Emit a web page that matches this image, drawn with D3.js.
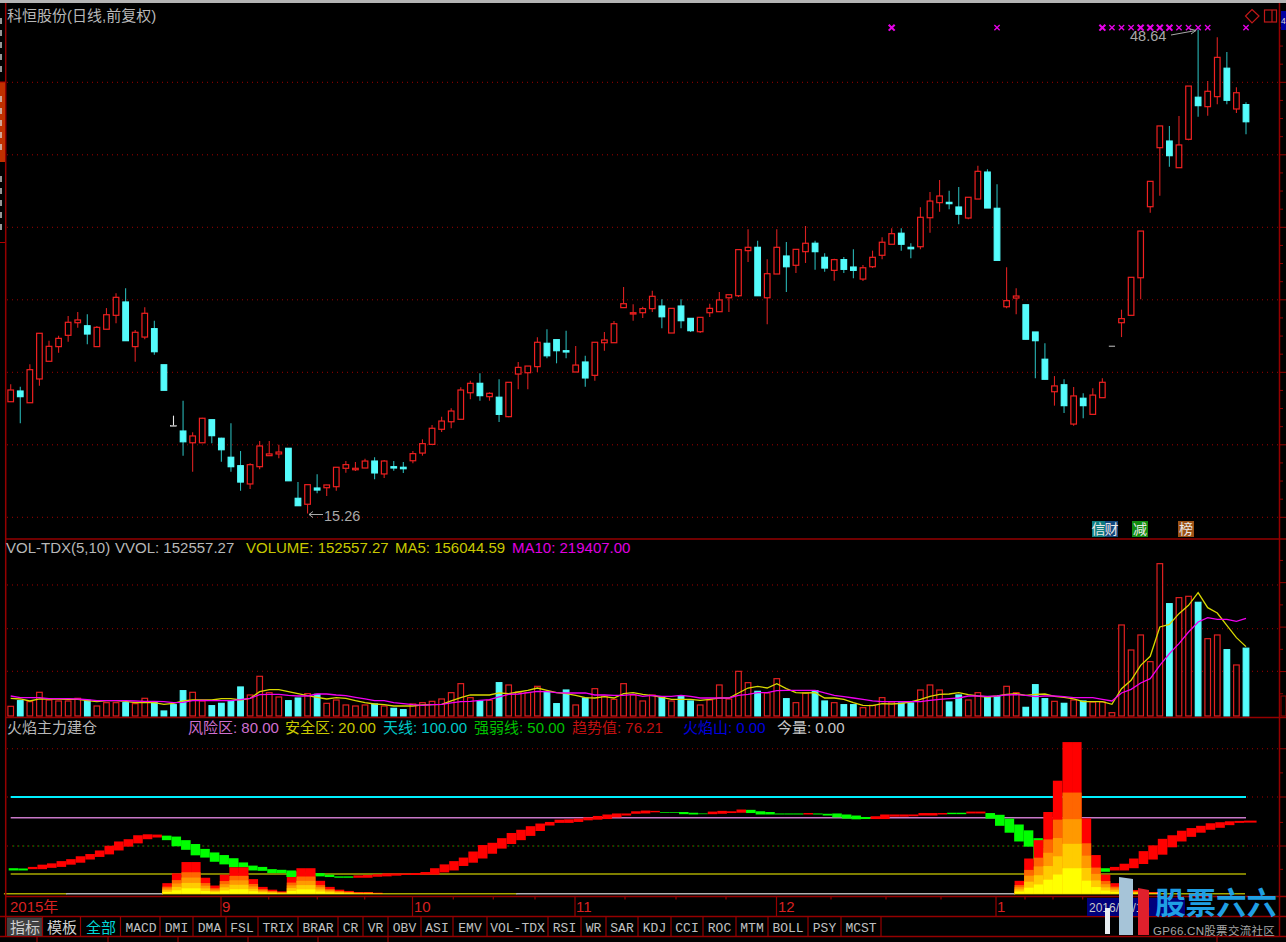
<!DOCTYPE html>
<html>
<head>
<meta charset="utf-8">
<script src="https://cdn.jsdelivr.net/npm/d3@7"></script>
<style>
  html, body { margin: 0; padding: 0; background: #000; overflow: hidden; }
  svg { display: block; }
  text { font-family: "Liberation Sans", "Noto Sans CJK SC", sans-serif; }
</style>
</head>
<body>
<svg width="1286" height="942"></svg>
<script>
// daily candles, one entry per trading day
const opens = [
  22.97,23.71,22.90,24.54,25.76,26.77,27.55,28.42,28.21,26.77,
  27.97,28.93,29.85,26.77,27.43,28.01,25.52,21.32,20.95,20.14,
  20.14,21.73,20.45,19.14,18.56,17.30,18.49,19.25,19.37,19.76,
  16.31,15.90,17.02,17.04,17.11,18.38,18.28,18.40,18.88,17.99,
  18.49,18.45,18.90,19.43,20.03,21.07,21.59,21.76,23.59,24.24,
  23.32,23.28,21.94,24.88,24.97,25.39,27.00,27.25,26.49,25.02,
  25.71,24.79,27.04,27.04,29.46,29.02,29.11,29.39,29.57,27.71,
  29.57,28.72,27.80,29.11,29.18,30.14,30.28,33.39,33.62,30.14,
  31.78,33.02,32.38,33.32,33.90,32.93,32.03,32.77,32.26,31.43,
  32.28,33.07,33.83,34.59,33.62,33.66,35.66,36.70,36.72,36.40,
  35.64,36.95,38.81,36.31,29.52,30.12,29.66,27.78,25.90,23.66,
  24.14,21.43,23.21,22.10,23.25,26.81,28.42,28.93,31.52,36.42,
  40.49,40.95,39.11,41.07,43.97,43.32,44.01,45.97,43.16,43.46
];
const highs = [
  24.17,24.01,25.55,27.69,27.18,27.52,28.88,29.16,29.00,28.19,
  29.43,30.45,30.79,27.92,29.48,28.56,25.52,22.01,23.04,20.86,
  21.87,21.73,20.49,21.48,19.57,18.72,20.26,20.26,20.01,19.76,
  17.43,17.25,17.97,17.25,18.45,18.88,18.81,19.04,19.14,18.95,
  18.88,18.81,19.57,20.38,21.37,21.94,22.52,23.97,24.42,24.93,
  23.62,24.52,24.31,25.71,25.43,27.41,27.97,27.25,27.87,26.81,
  26.14,27.07,27.78,28.54,30.88,29.69,29.52,30.63,30.03,29.41,
  30.03,28.72,28.79,29.73,30.54,30.35,33.46,34.86,34.08,32.79,
  34.86,33.99,33.48,35.09,34.08,33.21,32.83,32.95,33.48,32.40,
  33.39,34.31,34.93,34.93,33.90,36.38,37.43,38.26,37.52,37.78,
  37.07,39.25,39.00,37.97,32.24,30.79,29.66,27.78,27.00,24.74,
  24.52,23.99,23.55,23.90,24.59,26.81,29.32,31.55,34.74,38.17,
  41.99,41.99,42.68,44.74,48.64,45.09,48.10,47.09,44.66,43.62
];
const lows = [
  22.97,21.48,22.90,24.08,25.76,26.35,27.11,28.08,26.93,26.77,
  27.97,28.38,27.18,25.73,27.28,26.21,23.76,21.32,19.25,18.14,
  20.14,20.10,18.83,18.14,16.83,16.95,18.31,19.25,19.07,17.52,
  15.80,15.26,16.66,16.47,16.83,18.08,18.19,18.40,17.62,17.71,
  18.21,18.06,18.72,19.25,20.03,20.88,21.14,21.76,23.14,23.04,
  23.04,21.57,21.90,23.83,23.83,25.02,25.97,25.62,25.97,25.02,
  24.01,24.42,26.49,27.04,29.46,28.56,28.74,29.16,28.03,27.71,
  28.03,27.78,27.71,28.81,29.18,29.16,30.19,32.61,30.28,28.31,
  31.78,30.54,31.85,32.54,32.08,31.94,31.32,31.85,31.48,31.30,
  32.19,32.79,33.83,33.39,32.86,33.48,34.63,36.08,36.24,35.21,
  35.55,36.95,36.33,32.72,29.41,29.00,27.28,24.59,24.52,22.70,
  22.19,21.32,21.83,22.10,23.25,26.81,27.43,28.93,30.03,36.01,
  37.18,39.18,39.11,41.00,42.63,42.70,43.48,43.48,42.88,41.41
];
const closes = [
  23.78,23.32,25.18,27.69,26.79,27.34,28.45,28.61,27.64,28.10,
  28.97,30.17,27.18,27.76,29.07,26.42,23.76,21.32,20.21,20.61,
  21.83,20.63,19.66,18.49,17.43,18.63,19.92,19.37,19.50,17.52,
  15.80,17.25,16.88,17.23,18.45,18.63,18.38,18.88,18.06,18.88,
  18.40,18.35,19.39,20.08,21.14,21.64,22.33,23.78,24.24,23.39,
  23.55,22.10,24.31,25.34,25.43,27.07,26.14,26.49,26.40,25.50,
  24.61,27.07,27.23,28.35,29.73,29.11,29.39,30.24,28.83,29.41,
  28.56,27.87,28.79,29.41,29.99,30.35,33.46,33.62,30.28,31.80,
  33.62,32.28,33.48,33.90,33.32,32.19,32.77,32.10,32.03,32.21,
  32.93,33.97,34.56,33.83,33.52,35.69,36.81,37.16,36.63,35.90,
  37.07,38.86,36.33,32.72,29.94,30.26,27.28,27.18,24.52,24.06,
  22.70,23.37,22.70,23.43,24.31,26.81,28.70,31.55,34.74,38.17,
  41.99,39.94,40.68,44.74,43.39,44.38,46.72,43.76,44.28,42.28
];
const priceGrid = [15, 20, 25, 30, 35, 40, 45];
// days carrying the magenta cross along the top, the second list is drawn heavier
const alertDays = [103, 115, 116, 117, 122, 123, 124, 125, 129];
const alertDaysBold = [92, 114, 118, 119, 120, 121];
const alertPrice = 48.77;

// volume, in thousands of lots
const volumes = [
  21.8,34.5,32.3,53.3,36,33.8,33.8,39.8,35.3,22.5,
  30,30,30,27.8,39.8,30,11.3,25.5,57,53.3,
  33.8,23.3,28.5,34.5,65.3,47.3,89.3,52.5,42.8,34.5,
  40.5,50.3,48.8,28.5,36,24.8,22.5,24.8,27,22.5,
  17.3,14.3,27,30,33,38.3,52.5,72.8,41.3,33.8,
  35.3,75,69.8,54,52.5,66.8,54.8,27.8,58.5,24.8,
  40.5,61.5,44.3,37.5,72.8,47.3,33.8,47.3,42.8,33.8,
  45,33.8,24.8,36,69.8,38.3,100.5,75,55.5,51.8,
  84,39,30,51.8,57,33.8,30,25.5,25.5,18.8,
  24,41.3,31.5,29.3,29.3,58.5,69.8,58.5,31.5,47.3,
  36,52.5,41.3,43.5,66.8,52.5,19.5,70.5,39,33,
  28.5,36,33.8,31.5,31.5,7.5,204.8,148.5,182.3,122.3,
  342.8,252.8,266.3,269.3,255.8,174,182.3,149.3,114.8,152.56
];
const ma5 = [
  39.8,38.3,33.8,38.3,38.3,38.3,37.5,37.5,34.5,32.3,
  34.5,34.5,33,30,30,30,26.3,28.5,33.8,36,
  36,36,39,39,36,39.8,54.8,59.3,59.3,54.8,
  50.3,45.8,42,38.3,41.3,39.8,34.5,30,27,25.5,
  22.5,22.5,22.5,24.8,25.5,26.3,33.8,41.3,47.3,47.3,
  47.3,51.8,50.3,54,57.8,63,57.8,52.5,50.3,46.5,
  41.3,40.5,43.5,40.5,50.3,52.5,48.8,45.8,42,37.5,
  37.5,37.5,35.3,37.5,40.5,40.5,51.8,63,66.8,63,
  72.8,61.5,52.5,51.8,52.5,40.5,40.5,37.5,30,24,
  23.3,27.8,27,28.5,31.5,37.5,44.3,48.8,49.5,52.5,
  48,45,42.8,45,48.8,50.3,46.5,48.8,49.5,44.3,
  42,38.3,32.3,32.3,32.3,26.3,61.5,80.3,114,134.3,
  200.3,206.3,230.3,249,277.5,243.8,231.8,204,176.3,156.04
];
const ma10 = [
  45,41.3,41.3,41.3,39,39,39,38.3,36.8,34.5,
  34.5,34.5,34.5,33.8,33,33,32.3,30,30.8,34.5,
  35.3,34.5,34.5,34.5,36.8,39.8,48,48.8,48.8,46.5,
  45,45,49.5,49.5,47.3,45.8,42,38.3,34.5,34.5,
  30,27.8,25.5,24,25.5,26.3,29.3,32.3,33,35.3,
  36.8,42.8,48.8,49.5,52.5,55.5,54.8,52.5,51.8,51.8,
  51.8,47.3,47.3,46.5,46.5,48.8,44.3,46.5,44.3,44.3,
  46.5,44.3,40.5,40.5,40.5,40.5,46.5,48.8,52.5,52.5,
  57,57.8,57.8,57.8,57.8,51.8,46.5,43.5,40.5,37.5,
  33.8,32.3,32.3,32.3,32.3,32.3,35.3,37.5,39,40.5,
  45,45,44.3,45,47.3,48,46.5,43.5,45,45,
  43.5,41.3,41.3,41.3,37.5,33.8,51.8,60,74.3,84,
  114,140.3,162.8,189,211.5,221.3,217.5,217.5,213,219.41
];
const volumeGrid = [100.6, 196.4, 294.8];

// flame indicator: ribbon edges of the trend value, and the flame height
const trendHi = [
  26.2,25.9,27.6,30,31.4,33.8,35.9,39,41.4,45.2,
  50.3,54.8,57.2,61.4,62.4,62.1,61,60,56.2,52.1,
  46.9,43.1,40.3,36.9,32.4,29,27.6,25.2,24.5,23.8,
  22.8,21.7,21,19.3,17.6,17.6,18.6,19,19.7,20.7,
  20.7,20.7,21,22.1,26.2,30.3,33.8,37.6,44.1,51,
  53.4,58.3,63.8,67.2,71,73.8,75.5,77.9,78.3,79,
  80.3,81.7,83.1,84.1,84.1,86.2,86.9,86.6,85.5,85.5,
  85.5,84.8,84.1,85.9,86.6,86.2,87.9,87.6,86.2,85.5,
  84.1,84.1,84.1,84.5,84.1,83.8,84.1,83.1,82.1,80.7,
  81.4,83.1,83.1,83.1,83.1,84.5,84.5,84.5,84.8,84.8,
  85.9,85.9,84.5,82.8,79,72.8,66.6,58.3,48,42,
  38,34,30,28,26.2,27.6,31,36.6,44.5,50.7,
  57.6,61.4,66.2,69,71.4,74.1,75.2,76.2,76.6,76.9
];
const trendLo = [
  23.8,23.8,25.2,25.2,26.6,27.6,30,32.1,35.5,38.3,
  41,45.2,49.3,52.8,57.2,59,56.2,49.7,45.9,40,
  37.6,33.1,30.3,27.2,27.2,23.8,23.4,21,21,16.9,
  17.6,17.6,17.6,16.9,16.2,16.2,16.2,16.2,17.2,17.6,
  18.3,19,19,19.3,19.3,21.7,23.8,28.6,32.1,36.6,
  41.7,47.2,52.1,56.2,60.7,65.9,71.7,74.5,74.5,75.5,
  77.2,77.9,78.6,80.3,82.1,83.8,84.1,85.2,84.8,84.8,
  83.4,83.1,83.4,83.4,83.8,84.5,84.8,84.5,83.1,83.1,
  83.1,83.1,83.1,83.1,83.1,82.1,80.3,79,78.3,78.6,
  78.6,78.6,81,81,81.4,82.1,82.1,83.1,83.4,83.4,
  84.1,84.1,79,71.4,64.1,54.8,49.3,34.8,38,32,
  28,26,24,23,22.4,23.8,23.8,26.2,30.7,35.5,
  40.7,48.6,54.8,59.7,64.1,67.2,69.3,72.1,74.5,74.8
];
// first and last day of each stretch where the ribbon is green
const fallingRuns = [[0, 1], [16, 35], [68, 72], [77, 82], [84, 89], [98, 99], [102, 114]];
const flame = [
  0,0,0,0,0,0,0,0,0,0,
  0,0,0,0,0,0,10.7,20.7,32.8,32.8,
  16.2,8.3,19.3,27.2,27.2,14.8,6.9,4.1,2.4,16.9,
  26.2,26.2,13.1,6.9,4.1,2.8,1.7,1.7,1,0,
  0,0,0,0,0,0,0,0,0,0,
  0,0,0,0,0,0,0,0,0,0,
  0,0,0,0,0,0,0,0,0,0,
  0,0,0,0,0,0,0,0,0,0,
  0,0,0,0,0,0,0,0,0,0,
  0,0,0,0,0,0,0,0,0,0,
  0,0,0,0,0,13.1,36.6,56.2,85.5,116.9,
  156.9,156.9,79.3,40.3,19.3,10.7,5.5,3.8,2.4,1.7,
  0,0,0,0,0,0,0,0,0,0
];
// each flame column is painted as nested sticks at these shares of its height
const flameShares = [1, 2 / 3, 1 / 2, 1 / 3, 1 / 6];
const flameColors = ["#ff0000", "#ff6600", "#ff9900", "#ffcc00", "#ffff00"];
const flameGrid = [50, 100, 150];
const levelLines = [
  { value: 100, color: "#00f0ff", width: 2.2 },
  { value: 80, color: "#c878c8", width: 1.4 },
  { value: 20, color: "#a8a800", width: 1.6 },
];
// runs of the zero line: first day, last day, colour
const zeroRuns = [
  [-0.5, 6, "#a8a800"], [6, 16, "#b0b0b0"], [16, 53, "#a8a800"],
  [53, 105, "#b0b0b0"], [105, 129, "#a8a800"],
];

// date axis
const monthLabels = ["2015年", "9", "10", "11", "12", "1"];
const monthX = [10, 222, 414, 576, 778, 997];
const monthSepX = [221, 412.5, 575, 776.5, 996];
const minorTickX = [268.7, 317.3, 364.7, 453.3, 493.3, 535, 625, 676, 726, 831, 886, 941, 1025, 1053, 1082.7];

// indicator button bar, label and the x where its cell ends
const buttonLabels = ["MACD", "DMI", "DMA", "FSL", "TRIX", "BRAR", "CR", "VR", "OBV", "ASI", "EMV", "VOL-TDX", "RSI", "WR", "SAR", "KDJ", "CCI", "ROC", "MTM", "BOLL", "PSY", "MCST"];
const buttonEnds = [160, 193, 226, 258, 298, 338, 363, 388, 421, 453, 487, 548, 581, 606, 638, 671, 703, 736, 768, 808, 841, 881];

const volHeader = [
  { text: "VOL-TDX(5,10)", x: 6, color: "#b8b8b8" },
  { text: "VVOL: 152557.27", x: 115, color: "#b8b8b8" },
  { text: "VOLUME: 152557.27", x: 246, color: "#c8c800" },
  { text: "MA5: 156044.59", x: 395, color: "#c8c800" },
  { text: "MA10: 219407.00", x: 512, color: "#e000e0" },
];
const flameHeader = [
  { text: "火焰主力建仓", x: 7, color: "#b8b8b8" },
  { text: "风险区: 80.00", x: 188, color: "#d070d0" },
  { text: "安全区: 20.00", x: 285, color: "#c8c800" },
  { text: "天线: 100.00", x: 383, color: "#00c8c8" },
  { text: "强弱线: 50.00", x: 474, color: "#00c000" },
  { text: "趋势值: 76.21", x: 572, color: "#c01010" },
  { text: "火焰山: 0.00", x: 683, color: "#0000e0" },
  { text: "今量: 0.00", x: 777, color: "#c8c8c8" },
];

const RED = "#f02020";
const CYAN = "#54fcfc";
const FRAME = "#950000";
const GRID = "#a00000";

const svg = d3.select("svg");
const days = d3.range(opens.length);

// shared x scale, three y scales
const x = d3.scaleLinear().domain([0, days.length - 1]).range([10.7, 1246]);
const step = x(1) - x(0);
const yPrice = d3.scaleLinear().domain([15, 45]).range([517.3, 82.3]);
const yVol = d3.scaleLinear().domain([0, 396]).range([716, 540]);
const yFlame = d3.scaleLinear().domain([0, 20, 50, 80, 100, 157]).range([893.7, 874, 846, 817.7, 797, 742]);

svg.append("rect").attr("width", 1286).attr("height", 942).attr("fill", "#000");

// dotted grid helper
function dotted(y, color, x1, x2, offset) {
  svg.append("line")
    .attr("x1", x1).attr("x2", x2).attr("y1", y).attr("y2", y)
    .attr("stroke", color).attr("stroke-width", 1)
    .attr("stroke-dasharray", "1,4")
    .attr("stroke-dashoffset", offset || 0);
}
priceGrid.forEach((p) => dotted(yPrice(p), GRID, 7, 1279));
volumeGrid.forEach((v) => dotted(yVol(v), GRID, 7, 1279));
flameGrid.forEach((v) => dotted(yFlame(v), GRID, 7, 1279));
dotted(yFlame(50), "#00d000", x(0), x(129), 2.5);

//---------- candles
const isFlat = (i) => opens[i] === closes[i];
const candleColor = (i) => (isFlat(i) ? "#e8e8e8" : closes[i] > opens[i] ? RED : CYAN);
const candles = svg.append("g");
candles.selectAll(".wick").data(days).enter().append("line")
  .attr("x1", (i) => x(i)).attr("x2", (i) => x(i))
  .attr("y1", (i) => yPrice(highs[i])).attr("y2", (i) => yPrice(lows[i]))
  .attr("stroke", (i) => (isFlat(i) ? "#e8e8e8" : closes[i] > opens[i] ? "#d82020" : "#28b4b4"))
  .attr("stroke-width", 1.1);
candles.selectAll(".body").data(days).enter().append("rect")
  .attr("x", (i) => x(i) - 2.8)
  .attr("width", 5.6)
  .attr("y", (i) => yPrice(Math.max(opens[i], closes[i])))
  .attr("height", (i) => Math.max(0.6, Math.abs(yPrice(opens[i]) - yPrice(closes[i]))))
  .attr("fill", (i) => (isFlat(i) || closes[i] > opens[i] ? "#000" : CYAN))
  .attr("stroke", (i) => candleColor(i))
  .attr("stroke-width", (i) => (isFlat(i) ? 0.6 : 1.2));

// magenta crosses
const cross = d3.symbol().type(d3.symbolX);
function drawCrosses(list, size, width) {
  svg.append("g").selectAll("path").data(list).enter().append("path")
    .attr("d", cross.size(size)())
    .attr("transform", (i) => `translate(${x(i)},${yPrice(alertPrice)})`)
    .attr("fill", "none").attr("stroke", "#e800e8").attr("stroke-width", width);
}
drawCrosses(alertDays, 20, 1.3);
drawCrosses(alertDaysBold, 25, 2.1);

// high and low notes
const noteColor = "#a8a8a8";
svg.append("text").attr("x", 1130).attr("y", 41).attr("fill", noteColor).attr("font-size", 14.5).text("48.64");
svg.append("text").attr("x", 324).attr("y", 520.5).attr("fill", noteColor).attr("font-size", 14.5).text("15.26");
svg.append("path").attr("d", "M1171,35 L1196,30.5 M1190,29 L1196,30.5 L1191,34").attr("fill", "none").attr("stroke", noteColor);
svg.append("path").attr("d", "M323,514.5 L309,514.5 M313,511.5 L309,514.5 L313,517.5").attr("fill", "none").attr("stroke", noteColor);

// event tags at the foot of the price panel
const tags = [
  { text: "信", x: 1092, w: 13, color: "#0f7d80" },
  { text: "财", x: 1105, w: 13, color: "#12467c" },
  { text: "减", x: 1132, w: 16, color: "#108c10" },
  { text: "榜", x: 1178, w: 16, color: "#9c5216" },
];
tags.forEach((t) => {
  svg.append("rect").attr("x", t.x).attr("y", 521).attr("width", t.w).attr("height", 16).attr("fill", t.color);
  svg.append("text").attr("x", t.x + t.w / 2).attr("y", 534).attr("text-anchor", "middle")
    .attr("font-size", 14).attr("fill", "#e8e8e8").text(t.text);
});

//---------- volume bars
const volUp = (i) => closes[i] > opens[i] || i === 115;
svg.append("g").selectAll("rect").data(days).enter().append("rect")
  .attr("x", (i) => x(i) - 2.8)
  .attr("width", 5.6)
  .attr("y", (i) => yVol(volumes[i]))
  .attr("height", (i) => yVol(0) - yVol(volumes[i]))
  .attr("fill", (i) => (volUp(i) ? "#000" : CYAN))
  .attr("stroke", (i) => (volUp(i) ? "#e02020" : CYAN))
  .attr("stroke-width", 1.2);
const volLine = d3.line().x((d, i) => x(i)).y((d) => yVol(d));
svg.append("path").attr("d", volLine(ma5)).attr("fill", "none").attr("stroke", "#d8d800").attr("stroke-width", 1.3);
svg.append("path").attr("d", volLine(ma10)).attr("fill", "none").attr("stroke", "#f000f0").attr("stroke-width", 1.3);

//---------- flame panel
levelLines.forEach((l) => {
  svg.append("line")
    .attr("x1", x(0)).attr("x2", x(129))
    .attr("y1", yFlame(l.value)).attr("y2", yFlame(l.value))
    .attr("stroke", l.color).attr("stroke-width", l.width);
});

// ribbon, one stick per day
const isFalling = (i) => fallingRuns.some((r) => i >= r[0] && i <= r[1]);
svg.append("g").selectAll("rect").data(days).enter().append("rect")
  .attr("x", (i) => x(i) - 2)
  .attr("width", (i) => (i === 129 ? step + 3 : step))
  .attr("y", (i) => yFlame(trendHi[i]))
  .attr("height", (i) => yFlame(trendLo[i]) - yFlame(trendHi[i]))
  .attr("fill", (i) => (isFalling(i) ? "#00ff00" : "#ff0000"));

zeroRuns.forEach((r) => {
  svg.append("line")
    .attr("x1", x(r[0]) - 2).attr("x2", x(r[1]) - 1)
    .attr("y1", yFlame(0)).attr("y2", yFlame(0))
    .attr("stroke", r[2]).attr("stroke-width", 1.6);
});

// flame columns, tallest share first so the smaller ones sit on top
flameShares.forEach((share, k) => {
  svg.append("g").selectAll("rect").data(days.filter((i) => flame[i] > 0)).enter().append("rect")
    .attr("x", (i) => x(i) - 1.6)
    .attr("width", step)
    .attr("y", (i) => yFlame(flame[i] * share))
    .attr("height", (i) => yFlame(0) - yFlame(flame[i] * share))
    .attr("fill", flameColors[k]);
});

//---------- frame
const hLines = [539, 717.5, 896.5, 916.5, 936.5];
hLines.forEach((y) => {
  svg.append("line").attr("x1", y > 900 ? 0 : 5).attr("x2", 1286).attr("y1", y).attr("y2", y)
    .attr("stroke", FRAME).attr("stroke-width", 1.5);
});
svg.append("line").attr("x1", 5.7).attr("x2", 5.7).attr("y1", 3).attr("y2", 936).attr("stroke", FRAME).attr("stroke-width", 1.5);
svg.append("line").attr("x1", 1279.5).attr("x2", 1279.5).attr("y1", 3).attr("y2", 936).attr("stroke", FRAME).attr("stroke-width", 1.5);
svg.append("rect").attr("width", 1286).attr("height", 3).attr("fill", "#b4b4b4");

// right axis ticks
function rightTicks(values, scale, isMajor) {
  svg.append("g").selectAll("line").data(values).enter().append("line")
    .attr("x1", 1280).attr("x2", (d, i) => (isMajor(i) ? 1286 : 1283))
    .attr("y1", (d) => scale(d)).attr("y2", (d) => scale(d))
    .attr("stroke", FRAME);
}
rightTicks(d3.range(15, 50, 1.25), yPrice, (i) => i % 4 === 0);
rightTicks([50, 100, 150, 200, 250, 300, 350], yVol, (i) => i % 2 === 1);
rightTicks([25, 50, 75, 100, 125, 150], yFlame, (i) => i % 2 === 1);

// left side tabs
svg.append("rect").attr("x", 0).attr("y", 82).attr("width", 5).attr("height", 80).attr("fill", "#c03000");
svg.append("line").attr("x1", 0).attr("x2", 5).attr("y1", 82).attr("y2", 82).attr("stroke", "#b00000");
svg.append("line").attr("x1", 0).attr("x2", 5).attr("y1", 242.5).attr("y2", 242.5).attr("stroke", "#b00000");
svg.append("g").selectAll("rect").data([18, 30, 42, 54, 66, 96, 108, 120, 132, 144, 176, 188, 200, 212, 224]).enter().append("rect")
  .attr("x", 0).attr("y", (d) => d).attr("width", 2).attr("height", 6).attr("fill", "#d8d8d8").attr("opacity", 0.7);

// top right icons
svg.append("path").attr("d", "M1252,9.5 L1259,16 L1252,23 L1245.5,16 Z").attr("fill", "none").attr("stroke", "#c01818").attr("stroke-width", 1.2);
svg.append("rect").attr("x", 1264.5).attr("y", 10).attr("width", 12).attr("height", 12).attr("fill", "none").attr("stroke", "#c01818").attr("stroke-width", 1.2);
svg.append("line").attr("x1", 1272).attr("x2", 1272).attr("y1", 10).attr("y2", 22).attr("stroke", "#c01818").attr("stroke-width", 1.2);
svg.append("rect").attr("x", 1281).attr("y", 11).attr("width", 5).attr("height", 19).attr("fill", "#0000a0");
svg.append("text").attr("x", 1281).attr("y", 24).attr("font-size", 8.5).attr("fill", "#d8d8d8").text("4");
svg.append("rect").attr("x", 1281).attr("y", 696).attr("width", 5).attr("height", 20).attr("fill", "#000").attr("stroke", FRAME);

//---------- header texts
svg.append("text").attr("x", 7).attr("y", 21).attr("font-size", 15).attr("fill", "#b8b8b8").text("科恒股份(日线,前复权)");
volHeader.forEach((h) => {
  svg.append("text").attr("x", h.x).attr("y", 553).attr("font-size", 15).attr("fill", h.color).text(h.text);
});
flameHeader.forEach((h) => {
  svg.append("text").attr("x", h.x).attr("y", 733).attr("font-size", 15).attr("fill", h.color).text(h.text);
});

//---------- date axis
monthLabels.forEach((t, i) => {
  svg.append("text").attr("x", monthX[i]).attr("y", 912).attr("font-size", 15).attr("fill", "#d82020").text(t);
});
svg.append("g").selectAll("line").data(monthSepX).enter().append("line")
  .attr("x1", (d) => d).attr("x2", (d) => d).attr("y1", 897).attr("y2", 916).attr("stroke", FRAME).attr("stroke-width", 1.2);
svg.append("g").selectAll("line").data(minorTickX).enter().append("line")
  .attr("x1", (d) => d).attr("x2", (d) => d).attr("y1", 897).attr("y2", 899.5).attr("stroke", FRAME).attr("stroke-width", 1.2);

// cursor date box
svg.append("rect").attr("x", 1087).attr("y", 898).attr("width", 98).attr("height", 18).attr("fill", "#00007c");
svg.append("text").attr("x", 1089).attr("y", 911.5).attr("font-size", 12).attr("fill", "#c8c8c8").text("2016/01/15");

//---------- button bar
svg.append("rect").attr("x", 7).attr("y", 917.5).attr("width", 35).attr("height", 18.5).attr("fill", "#404040");
const cnButtons = [
  { text: "指标", x: 25, color: "#d0d0d0" },
  { text: "模板", x: 62, color: "#d0d0d0" },
  { text: "全部", x: 101, color: "#00d8d8" },
];
cnButtons.forEach((b) => {
  svg.append("text").attr("x", b.x).attr("y", 932.5).attr("text-anchor", "middle").attr("font-size", 15).attr("fill", b.color).text(b.text);
});
svg.append("g").selectAll("text").data(buttonLabels).enter().append("text")
  .attr("x", (d, i) => ((i === 0 ? 122 : buttonEnds[i - 1]) + buttonEnds[i]) / 2)
  .attr("y", 931.5)
  .attr("text-anchor", "middle")
  .attr("font-size", 13)
  .attr("fill", "#c0c0c0")
  .style("font-family", '"Liberation Mono", monospace')
  .text((d) => d);
svg.append("g").selectAll("line").data([42.5, 80.5, 120.5].concat(buttonEnds)).enter().append("line")
  .attr("x1", (d) => d).attr("x2", (d) => d).attr("y1", 917).attr("y2", 936).attr("stroke", FRAME).attr("stroke-width", 1.2);
svg.append("g").selectAll("line").data([37, 108, 178, 248, 318, 388, 1217]).enter().append("line")
  .attr("x1", (d) => d).attr("x2", (d) => d).attr("y1", 937).attr("y2", 942).attr("stroke", FRAME).attr("stroke-width", 1.2);

//---------- site watermark
svg.append("rect").attr("x", 1105).attr("y", 908).attr("width", 5).attr("height", 26).attr("fill", "#e8eef2");
svg.append("path").attr("d", "M1119,877 L1133,879 L1133,935 L1119,935 Z").attr("fill", "#a6c4d8");
svg.append("path").attr("d", "M1138,888 L1149,890 L1149,935 L1138,935 Z").attr("fill", "#e0202c");
svg.append("text").attr("x", 1155).attr("y", 913.5).attr("font-size", 30.5).attr("font-weight", 700)
  .attr("fill", "#1f9fe4").style("font-family", '"Noto Sans CJK SC"').text("股票六六");
svg.append("text").attr("x", 1153).attr("y", 934.5).attr("font-size", 11.5).attr("letter-spacing", 0.3).attr("fill", "#a8a8a8").text("GP66.CN股票交流社区");
</script>
</body>
</html>
